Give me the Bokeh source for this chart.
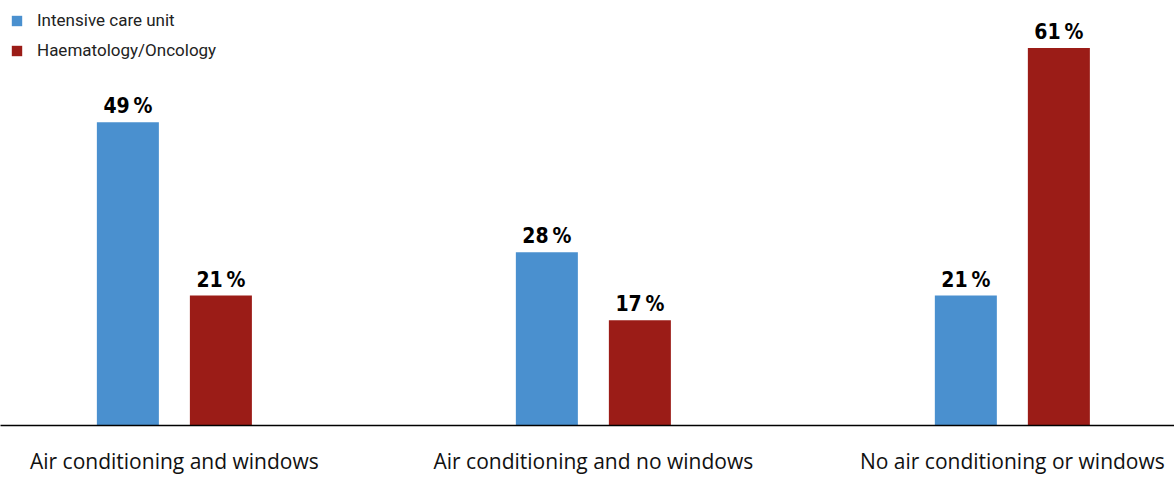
from bokeh.plotting import figure
from bokeh.models import ColumnDataSource, Range1d, Legend, LegendItem, FixedTicker
from bokeh.core.properties import value
from bokeh.embed import file_html
from bokeh.resources import INLINE

categories = ["Air conditioning and windows", "Air conditioning and no windows", "No air conditioning or windows"]
series = ["Intensive care unit", "Haematology/Oncology"]
icu = [49, 28, 21]
haem = [21, 17, 61]
colors = ["#4a90cf", "#9b1c17"]

pos = list(range(len(categories)))
offset = 0.111
bw = 0.148

p = figure(width=1174, height=477, output_backend="svg", toolbar_location=None,
           x_range=Range1d(-0.415, 2.387), y_range=Range1d(0, 68.66),
           min_border_left=0, min_border_right=0, min_border_top=0, min_border_bottom=0)

src1 = ColumnDataSource(dict(x=[v - offset for v in pos], top=icu, lab=[f"{v}\u202f%" for v in icu]))
src2 = ColumnDataSource(dict(x=[v + offset for v in pos], top=haem, lab=[f"{v}\u202f%" for v in haem]))

r1 = p.vbar(x="x", top="top", width=bw, source=src1, color=colors[0], line_color=None)
r2 = p.vbar(x="x", top="top", width=bw, source=src2, color=colors[1], line_color=None)

lab_font = value("DejaVu Sans Condensed, Roboto, sans-serif")
for s in (src1, src2):
    p.text(x="x", y="top", text="lab", source=s, text_align="center", text_baseline="bottom",
           y_offset=-4, text_font=lab_font, text_font_style="bold", text_font_size="21px",
           text_color="black")

legend = Legend(items=[LegendItem(label=series[0], renderers=[r1]),
                       LegendItem(label=series[1], renderers=[r2])],
                location="top_left", border_line_color=None, background_fill_alpha=0,
                label_text_font="Roboto", label_text_font_size="17px",
                label_text_color="#222222",
                glyph_width=13, glyph_height=13, label_height=11, spacing=10,
                padding=4, margin=10, label_standoff=14)
p.add_layout(legend)

p.xaxis.ticker = FixedTicker(ticks=pos)
p.xaxis.major_label_overrides = {i: c for i, c in enumerate(categories)}
p.xaxis.major_tick_line_color = None
p.xaxis.major_tick_out = 0
p.xaxis.major_tick_in = 0
p.xaxis.minor_tick_line_color = None
p.xaxis.axis_line_color = "black"
p.xaxis.axis_line_width = 1.5
p.xaxis.major_label_text_font = "Open Sans"
p.xaxis.major_label_text_font_size = "21px"
p.xaxis.major_label_text_color = "#111111"
p.xaxis.major_label_standoff = 21
p.yaxis.visible = False
p.xgrid.visible = False
p.ygrid.visible = False
p.outline_line_color = None

open("out.html", "w").write(file_html(p, INLINE))
